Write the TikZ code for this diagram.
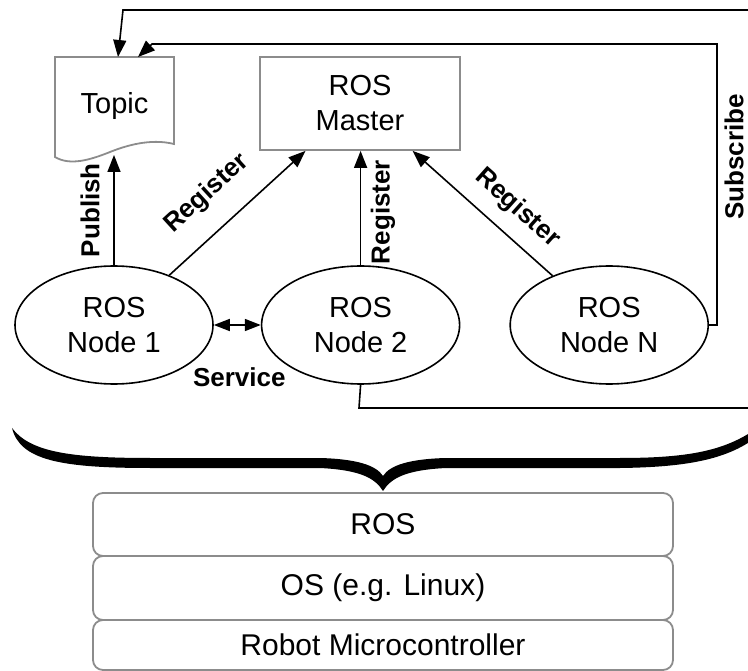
\documentclass[tikz,border=0pt]{standalone}
\usepackage{fontspec}
\setmainfont{Liberation Sans}
\usetikzlibrary{arrows.meta,positioning,shapes.geometric}

\definecolor{boxgray}{RGB}{140,140,140}

\begin{document}
\begin{tikzpicture}[x=1pt, y=-1pt,
    every node/.style={font=\fontsize{29}{35}\selectfont, align=center},
    lbl/.style={font=\fontsize{26}{30}\selectfont\bfseries, inner sep=0pt},
    rosnode/.style={draw, ellipse, line width=1.6pt, minimum width=198pt, minimum height=118pt},
    grayline/.style={draw=boxgray, line width=1.8pt},
    layer/.style={grayline, rounded corners=10pt, minimum width=580pt, font=\fontsize{30}{36}\selectfont},
    arr/.style={-{Triangle[length=17pt,width=13pt]}, line width=1.6pt},
    darr/.style={{Triangle[length=16pt,width=12pt]}-{Triangle[length=16pt,width=12pt]}, line width=1.6pt}
]

    % Frame of the picture
    \def\W{748}
    \def\H{671}
    \def\out{770}
    \useasboundingbox (0,0) rectangle (\W,\H);
    \clip (0,0) rectangle (\W,\H);

    % Topic (document shape)
    \node (topic) at (114.5,106) {Topic};
    \draw[grayline] (55,57) -- (174,57) -- (174,144)
        .. controls (150,138) and (125,146) .. (110,152)
        .. controls (90,160) and (70,166) .. (55,157) -- cycle;
    \coordinate (topicbot) at (114,155);
    \coordinate (topicin1) at (118,57);
    \coordinate (topicin2) at (138,57);

    % Master
    \node[grayline, minimum width=200pt, minimum height=93pt] (master) at (360,103.5) {ROS\\Master};

    % ROS nodes
    \node[rosnode] (n1) at (114,325) {ROS\\Node 1};
    \node[rosnode, right=47pt of n1] (n2) {ROS\\Node 2};
    \node[rosnode, right=49pt of n2] (nN) {ROS\\Node N};

    % Publish / register
    \draw[arr] (n1.north) -- (topicbot) node[lbl, midway, sloped, above=13.5pt] (publbl) {Publish};
    \draw[arr] (n1.42) -- (master.221) node[lbl, pos=0.45, sloped, above=22pt] (reg1lbl) {Register};
    \draw[arr] (n2.north) -- (n2.north |- master.south);
    \node[lbl, rotate=90] (reg2lbl) at (383,212) {Register};
    \draw[arr] (nN.139) -- (master.318) node[lbl, pos=0.38, sloped, above=14pt] (regNlbl) {Register};

    % Service
    \draw[darr] (n1.east) -- (n2.west) node[lbl, midway, below=42pt, xshift=2pt] (servlbl) {Service};

    % Subscribe loop
    \draw[arr] (nN.east) -| (717,44) -- (152,44) -- (topicin2);
    \node[lbl, rotate=90] (sublbl) at (734,157) {Subscribe};

    % Loop from node 2
    \draw[arr] (n2.south) -- (359,408) -- (\out,408) -- (\out,10) -- (123,10) -- (topicin1);

    % Brace
    \fill[black] (12,428) .. controls (20,460) and (60,468) .. (150,468) -- (320,468)
        .. controls (360,470) and (375,478) .. (383,491)
        .. controls (391,478) and (406,470) .. (446,468) -- (620,468)
        .. controls (700,467) and (740,456) .. (\out,425)
        -- (\out,418)
        .. controls (735,448) and (700,458) .. (620,458) -- (446,458)
        .. controls (410,459) and (390,465) .. (383,476)
        .. controls (376,465) and (356,459) .. (320,458) -- (150,458)
        .. controls (70,458) and (30,452) .. (12,428) -- cycle;

    % Layers
    \foreach \lname/\yc/\hgt/\txt in {ros/524.5/63/ROS, os/588/64/OS (e.g. Linux), mcu/645/50/Robot Microcontroller}
        \node[layer, minimum height=\hgt pt] (\lname) at (383,\yc) {\txt};

\end{tikzpicture}
\end{document}
